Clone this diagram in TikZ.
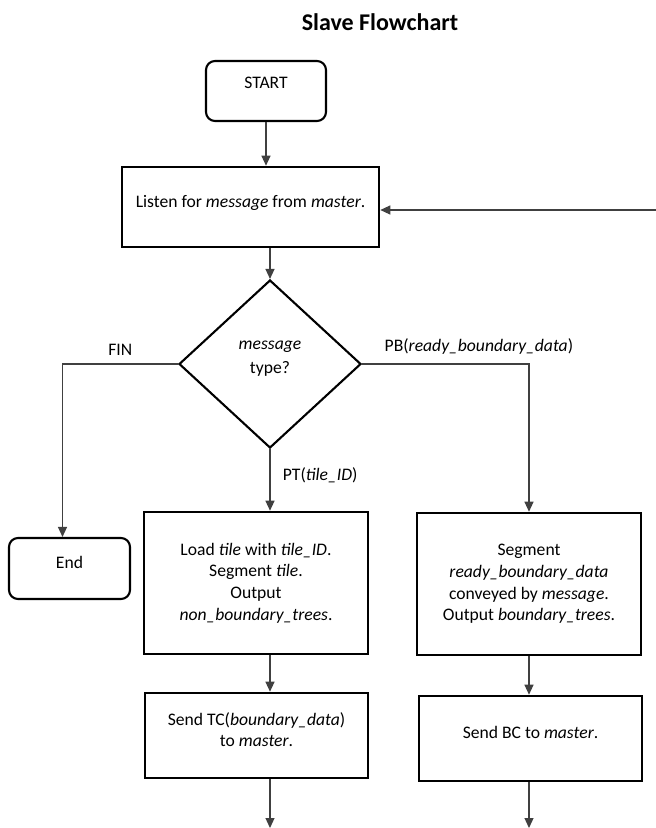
\documentclass[tikz,border=0pt]{standalone}
\usepackage{fontspec}
\setmainfont{Carlito}
\usetikzlibrary{shapes.geometric,arrows.meta}
\begin{document}
\begin{tikzpicture}[x=1pt,y=-1pt,>={Triangle[length=10pt,width=9pt]},
        flowbox/.style={draw,line width=2.6pt,align=center,inner sep=2pt,font=\fontsize{17.6}{21.7}\selectfont},
        termbox/.style={flowbox,rounded corners=9pt,line width=2.1pt},
        conn/.style={->,line width=1.2pt,draw=black!75},
        lbl/.style={font=\fontsize{17.6}{21}\selectfont}]
        \useasboundingbox(0,0)rectangle(656,828);
        \node[font=\bfseries\fontsize{24}{28}\selectfont](title)at(380,22){Slave Flowchart};
        \node[termbox,minimum width=120,minimum height=60,text depth=16pt](start)at(266,91){START};
        \node[flowbox,minimum width=257,minimum height=80,text depth=12pt](listen)at(250.5,207){Listen for \textit{message} from \textit{master}.};
        \node[diamond,draw,line width=2.1pt,minimum width=182,minimum height=168,inner sep=0pt,align=center,text depth=14pt,font=\fontsize{17.6}{24}\selectfont](type)at(270,364){\textit{message}\\type?};
        \node[termbox,minimum width=121,minimum height=61,text depth=13pt](fin)at(69.5,568.5){End};
        \node[flowbox,minimum width=224,minimum height=142](tile)at(256,583){Load \textit{tile} with \textit{tile\_ID}.\\Segment \textit{tile}.\\Output\\\textit{non\_boundary\_trees}.};
        \node[flowbox,minimum width=224,minimum height=142](bnd)at(529,584){Segment\\\textit{ready\_boundary\_data}\\conveyed by \textit{message}.\\Output \textit{boundary\_trees}.};
        \node[flowbox,minimum width=223,minimum height=85,text depth=12pt](sendtc)at(256.5,735.5){Send TC(\textit{boundary\_data})\\to \textit{master}.};
        \node[flowbox,minimum width=223,minimum height=85,text depth=13pt](sendbc)at(530.5,738.5){Send BC to \textit{master}.};
        \coordinate(back)at(656,210);
        \coordinate(outl)at(270,828);
        \coordinate(outr)at(529,828);
        \draw[conn](start.south)--(start.south|-listen.north);
        \draw[conn](back)--(back-|listen.east);
        \draw[conn](listen.south-|type.north)--(type.north);
        \draw[conn](type.west)-|node[pos=0.25,above=5pt,lbl]{FIN}([xshift=-7pt]fin.north);
        \draw[conn](type.east)-|node[pos=0.35,above=6pt,lbl]{PB(\textit{ready\_boundary\_data})}(bnd.north);
        \draw[conn](type.south)--node[pos=0.42,right=9pt,lbl]{PT(\textit{tile\_ID})}(type.south|-tile.north);
        \draw[conn](tile.south-|type.south)--(sendtc.north-|type.south);
        \draw[conn](sendtc.south-|outl)--(outl);
        \draw[conn](bnd.south)--(bnd.south|-sendbc.north);
        \draw[conn](sendbc.south-|outr)--(outr);
    \end{tikzpicture}
\end{document}
